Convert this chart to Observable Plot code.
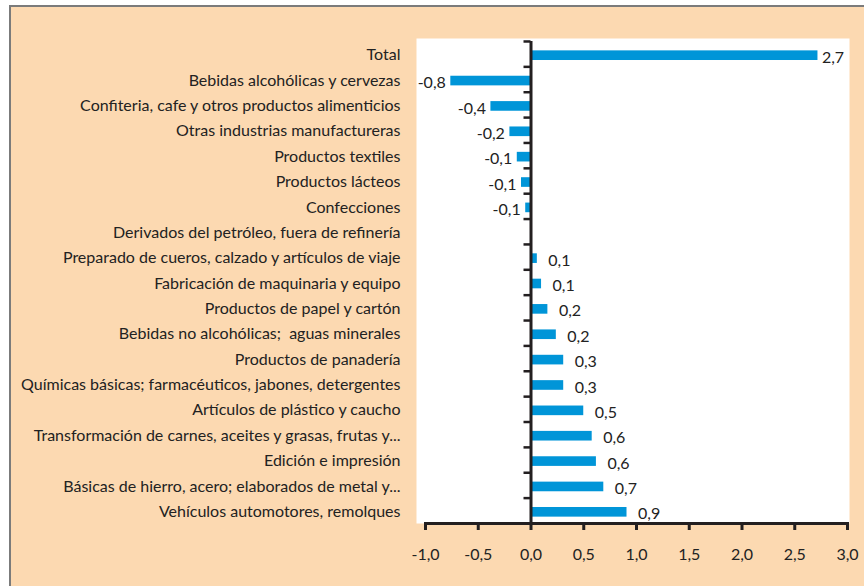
<!DOCTYPE html>
<html><head><meta charset="utf-8">
<script src="https://cdn.jsdelivr.net/npm/d3@7"></script>
<script src="https://cdn.jsdelivr.net/npm/@observablehq/plot@0.6"></script>
<style>
html,body{margin:0;padding:0;background:#fff;overflow:hidden;width:864px;height:586px;}
#bg{position:absolute;left:9px;top:5px;right:0;bottom:0;background:#FCD9B1;border-left:2px solid #7b7b7b;border-top:2px solid #7b7b7b;}
#chart{position:absolute;left:0;top:0;}
</style></head><body><div id="bg"></div><div id="chart"></div>
<script>
const categories = [
  "Total",
  "Bebidas alcohólicas y cervezas",
  "Confiteria, cafe y otros productos alimenticios",
  "Otras industrias manufactureras",
  "Productos textiles",
  "Productos lácteos",
  "Confecciones",
  "Derivados del petróleo, fuera de refinería",
  "Preparado de cueros, calzado y artículos de viaje",
  "Fabricación de maquinaria y equipo",
  "Productos de papel y cartón",
  "Bebidas no alcohólicas;  aguas minerales",
  "Productos de panadería",
  "Químicas básicas; farmacéuticos, jabones, detergentes",
  "Artículos de plástico y caucho",
  "Transformación de carnes, aceites y grasas, frutas y...",
  "Edición e impresión",
  "Básicas de hierro, acero; elaborados de metal y...",
  "Vehículos automotores, remolques"
];
const values = [2.72, -0.76, -0.38, -0.20, -0.13, -0.09, -0.05, 0, 0.06, 0.10, 0.16, 0.24, 0.31, 0.31, 0.50, 0.58, 0.62, 0.69, 0.91];
const xTicks = [-1, -0.5, 0, 0.5, 1, 1.5, 2, 2.5, 3];

const fmt = v => v.toFixed(1).replace(".", ",");
const data = categories.map((c, i) => ({cat: c, value: values[i]}));
const labeled = data.filter(d => d.value !== 0);

const font = "Lato, 'Open Sans', sans-serif";
const fs = 16;
const chart = Plot.plot({
  width: 864,
  height: 586,
  marginLeft: 425,
  marginRight: 17,
  marginTop: 41,
  marginBottom: 63,
  style: {background: "transparent", fontFamily: font, fontSize: fs + "px", color: "#222"},
  x: {domain: [-1, 3]},
  y: {domain: categories, paddingInner: 0.62, paddingOuter: 0.31, round: false},
  marks: [
    Plot.frame({fill: "white", stroke: "none", insetLeft: -9, insetRight: -2, insetTop: -3}),
    Plot.barX(data, {x: "value", y: "cat", fill: "#0095D8", dy: 1.5}),
    Plot.text(labeled.filter(d => d.value > 0 && d.cat !== "Total"), {x: "value", y: "cat", text: d => fmt(d.value), textAnchor: "start", dx: 11, dy: 3.5, fontSize: fs, fill: "#222"}),
    Plot.text(labeled.filter(d => d.cat === "Total"), {x: "value", y: "cat", text: d => fmt(d.value), textAnchor: "start", dx: 4, dy: 3.5, fontSize: fs, fill: "#222"}),
    Plot.text(labeled.filter(d => d.value < 0), {x: "value", y: "cat", text: d => fmt(d.value), textAnchor: "end", dx: -5, dy: 3.5, fontSize: fs, fill: "#222"}),
    Plot.ruleY(categories, {y: d => d, x1: 0, x2: 0, insetLeft: -7, dy: -12.7, stroke: "#231f20", strokeWidth: 2.5}),
    Plot.ruleX([0], {stroke: "#231f20", strokeWidth: 3}),
    Plot.frame({anchor: "bottom", stroke: "#231f20", strokeWidth: 3}),
    Plot.axisX({ticks: xTicks, tickFormat: fmt, tickSize: 7, tickPadding: 18, strokeWidth: 3, stroke: "#231f20", fontSize: fs, fill: "#222", label: null}),
    Plot.axisY({tickSize: 0, tickPadding: 25, fontSize: fs, fill: "#222", label: null, dy: 1})
  ]
});
document.getElementById("chart").appendChild(chart);
</script>
</body></html>
